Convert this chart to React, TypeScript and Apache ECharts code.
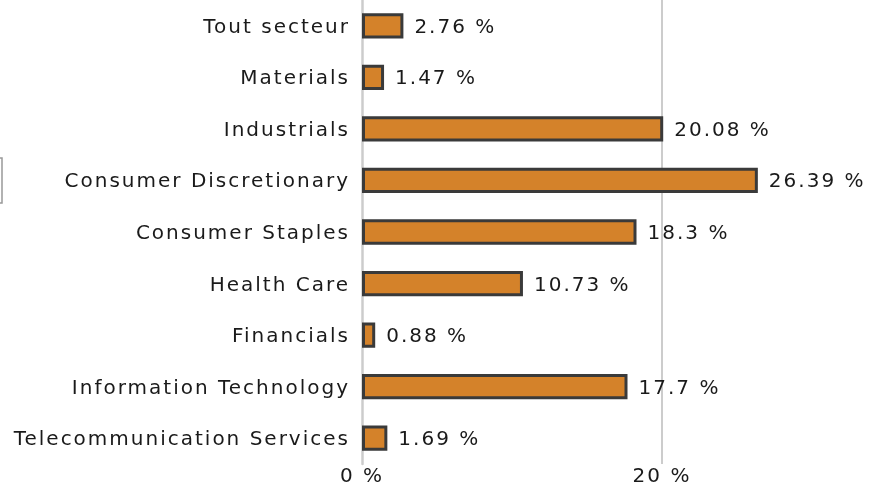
import React, { useEffect, useRef } from "react";
import * as echarts from "echarts";

const categories = [
  "Tout secteur",
  "Materials",
  "Industrials",
  "Consumer Discretionary",
  "Consumer Staples",
  "Health Care",
  "Financials",
  "Information Technology",
  "Telecommunication Services",
];
const values = [2.76, 1.47, 20.08, 26.39, 18.3, 10.73, 0.88, 17.7, 1.69];

const FONT = "DejaVu Sans";
const FS = 20;

export default function App() {
  const ref = useRef<HTMLDivElement>(null);
  useEffect(() => {
    const chart = echarts.init(ref.current!, undefined, { renderer: "svg" });
    chart.setOption({
      animation: false,
      grid: { left: 362, right: 4, top: 0, bottom: 22, containLabel: false },
      xAxis: {
        type: "value",
        min: 0,
        max: 34,
        interval: 20,
        axisLine: { show: false },
        axisTick: { show: false },
        splitLine: {
          show: true,
          showMinLine: false,
          showMaxLine: false,
          lineStyle: { color: "#cccccc", width: 2 },
        },
        axisLabel: {
          formatter: (v: number) => `${v} %`,
          color: "#1a1a1a",
          fontFamily: FONT,
          fontSize: FS,
          lineHeight: 20,
          margin: 1,
          showMaxLabel: false,
        },
      },
      yAxis: {
        type: "category",
        data: categories,
        inverse: true,
        axisLine: { show: true, lineStyle: { color: "#cccccc", width: 2.5 } },
        axisTick: { show: false },
        axisLabel: {
          color: "#1a1a1a",
          fontFamily: FONT,
          fontSize: FS,
          margin: 12,
        },
      },
      series: [
        {
          type: "bar",
          data: values,
          barWidth: "49%",
          itemStyle: { color: "#D4822A", borderColor: "#3a3a3a", borderWidth: 3 },
          label: {
            show: true,
            position: "right",
            distance: 11,
            formatter: (p: any) => `${p.value} %`,
            color: "#1a1a1a",
            fontFamily: FONT,
            fontSize: FS,
          },
        },
      ],
      graphic: [
        {
          type: "rect",
          shape: { x: -4, y: 158, width: 6, height: 45 },
          style: { fill: "#fff", stroke: "#999", lineWidth: 1.5 },
        },
      ],
    });
    return () => chart.dispose();
  }, []);
  return (
    <>
      <style>{"#root svg text { letter-spacing: 2px; }"}</style>
      <div
        ref={ref}
        style={{ position: "fixed", left: 0, top: 0, width: 876, height: 486 }}
      />
    </>
  );
}
